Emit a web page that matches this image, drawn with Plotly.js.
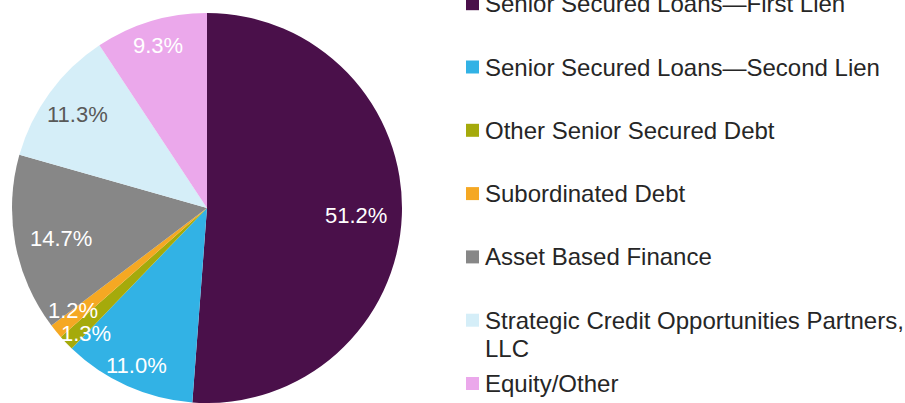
<!DOCTYPE html>
<html>
<head>
<meta charset="utf-8">
<script src="https://cdn.plot.ly/plotly-3.0.1.min.js"></script>
<style>
html,body{margin:0;padding:0;width:905px;height:403px;overflow:hidden;background:#fff;}
#chart{width:905px;height:403px;}
</style>
</head>
<body>
<div id="chart"></div>
<script>
// ---- data ----
const categories = [
  "Senior Secured Loans\u2014First Lien",
  "Senior Secured Loans\u2014Second Lien",
  "Other Senior Secured Debt",
  "Subordinated Debt",
  "Asset Based Finance",
  "Strategic Credit Opportunities Partners, LLC",
  "Equity/Other"
];
const shares = [51.2, 11.0, 1.3, 1.2, 14.7, 11.3, 9.3];

// ---- style / layout ----
const colors = ["#4A104A", "#32B2E5", "#A5AA0B", "#F5A823", "#878787", "#D5EEF8", "#EBA8EB"];
const labelColors = ["#ffffff", "#ffffff", "#ffffff", "#ffffff", "#ffffff", "#595959", "#ffffff"];
const labelRadius = [0.765, 0.886, 0.894, 0.865, 0.765, 0.818, 0.870];
const labelAngleShift = [0.9, -0.2, -2.1, 1.8, -1.2, -0.5, -0.1]; // degrees
const W = 905, H = 403;
const domX = [11 / W, 403 / W];
const domY = [0, 1 - 13 / H];

// pie geometry in pixels (as Plotly computes it)
const wPx = (domX[1] - domX[0]) * W, hPx = (domY[1] - domY[0]) * H;
const R = Math.min(wPx, hPx) / 2;
const CX = (domX[0] + domX[1]) / 2 * W;
const CY = (1 - (domY[0] + domY[1]) / 2) * H;

const total = shares.reduce((a, b) => a + b, 0);
const annotations = [];
const shapes = [];
let cum = 0;
shares.forEach((v, i) => {
  const theta = ((cum + v / 2) / total * 360 + labelAngleShift[i]) * Math.PI / 180;
  cum += v;
  const px = CX + labelRadius[i] * R * Math.sin(theta);
  const py = CY - labelRadius[i] * R * Math.cos(theta);
  annotations.push({
    xref: "paper", yref: "paper", x: px / W, y: 1 - py / H,
    xanchor: "center", yanchor: "middle", showarrow: false,
    text: v.toFixed(1) + "%",
    font: {family: "Liberation Sans, Arial, sans-serif", size: 22, color: labelColors[i]}
  });
});

// legend drawn as annotations + squares
const legTop = 3.7, legStep = 63.3, sq = 13, sqX = 466, txtX = 483, lineStep = 28;
categories.forEach((name, i) => {
  const yc = legTop + i * legStep;
  shapes.push({
    type: "rect", xref: "paper", yref: "paper",
    x0: sqX / W, x1: (sqX + sq) / W,
    y0: 1 - (yc - sq / 2) / H, y1: 1 - (yc + sq / 2) / H,
    fillcolor: colors[i], line: {width: 0}
  });
  const lines = name.split(/(?<=,) /);
  lines.forEach((ln, k) => {
    annotations.push({
      xref: "paper", yref: "paper", x: txtX / W, y: 1 - (yc + k * lineStep) / H,
      xanchor: "left", yanchor: "middle", showarrow: false,
      text: ln,
      font: {family: "Liberation Sans, Arial, sans-serif", size: 24, color: "#262626"}
    });
  });
});

const trace = {
  type: "pie",
  labels: categories,
  values: shares,
  sort: false,
  direction: "clockwise",
  rotation: 0,
  textinfo: "none",
  hoverinfo: "label+percent",
  marker: {colors: colors, line: {width: 0}},
  domain: {x: domX, y: domY},
  showlegend: false
};

const layout = {
  width: W, height: H,
  margin: {l: 0, r: 0, t: 0, b: 0},
  paper_bgcolor: "#ffffff",
  showlegend: false,
  annotations: annotations,
  shapes: shapes
};

Plotly.newPlot("chart", [trace], layout, {displayModeBar: false, staticPlot: true});
</script>
</body>
</html>
